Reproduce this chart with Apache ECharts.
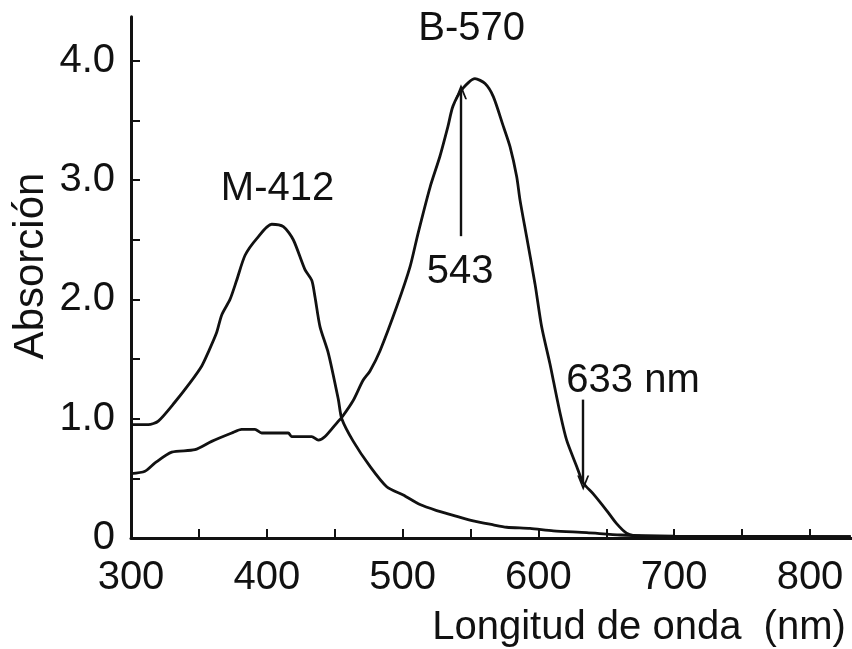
<!DOCTYPE html>
<html>
<head>
<meta charset="utf-8">
<script src="https://cdn.jsdelivr.net/npm/echarts@6/dist/echarts.min.js"></script>
<style>
  html, body { margin: 0; padding: 0; background: #fff; }
  #chart { width: 852px; height: 649px; }
</style>
</head>
<body>
<div id="chart"></div>
<script>
// Absorption spectra of the M-412 and B-570 states (wavelength in nm, absorbance).
const mWavelength = [300, 312.7, 320.1, 332.4, 343.4, 352, 357, 363, 366.8, 372.9, 377.8, 384, 392.6, 403.6,
  412.2, 419.5, 428.1, 433.1, 435.5, 439.2, 445.3, 452.7, 455.2, 463.7, 476, 488.3, 500.5, 512.8, 525.1,
  537.3, 549.6, 566.8, 576.6, 593.8, 611, 635.6, 660.3, 700, 830];
const mAbsorbance = [0.95, 0.95, 0.98, 1.14, 1.30, 1.44, 1.56, 1.72, 1.87, 2.00, 2.16, 2.37, 2.51, 2.63,
  2.61, 2.50, 2.25, 2.16, 2.02, 1.77, 1.55, 1.16, 1.00, 0.81, 0.60, 0.43, 0.36, 0.28, 0.23,
  0.19, 0.15, 0.11, 0.09, 0.08, 0.06, 0.045, 0.025, 0.015, 0.012];

const bWavelength = [300, 310.3, 317.7, 330, 347.1, 359.4, 374.2, 381.5, 391.3, 396.2, 415.8, 418.3, 433.1,
  437.9, 442.9, 452.7, 455.2, 463.5, 470.8, 476, 483.4, 495.7, 505.4, 511.3, 520.2, 527.5, 533.4, 537.1,
  544.5, 553.3, 560.7, 566.8, 574.2, 579.1, 584, 586.5, 591.4, 597.5, 602.4, 608.5, 611, 615.9, 620.8,
  628.2, 633.1, 640.4, 650.3, 657.6, 665, 675, 830];
const bAbsorbance = [0.54, 0.56, 0.63, 0.72, 0.74, 0.81, 0.88, 0.91, 0.91, 0.88, 0.88, 0.85, 0.85,
  0.82, 0.85, 0.98, 1.01, 1.15, 1.32, 1.40, 1.57, 1.94, 2.27, 2.55, 2.94, 3.20, 3.45, 3.62,
  3.77, 3.85, 3.81, 3.70, 3.45, 3.28, 3.03, 2.83, 2.52, 2.13, 1.77, 1.46, 1.32, 1.05, 0.82,
  0.60, 0.46, 0.37, 0.23, 0.12, 0.04, 0.015, 0.012];

// Excitation wavelengths marked with arrows, and the absorbance span of each arrow
const arrowWavelengths = [543, 633];
const arrowFrom = [2.53, 1.16];
const arrowTo = [3.74, 0.46];

// Annotation texts with their data-space anchors
const noteTexts = ['M-412', 'B-570', '543', '633 nm'];
const noteWavelengths = [407.9, 550.9, 542.3, 669.7];
const noteAbsorbance = [2.925, 4.27, 2.23, 1.316];

// Axis ranges: the drawn axis lines run a little past the last labelled tick
const xMin = 300, xTickMax = 800, xStep = 100, xAxisEnd = 830.9;
const yMin = 0, yTickMax = 4, yStep = 0.5, yAxisEnd = 4.37;

const pairs = (xs, ys) => xs.map((x, i) => [x, ys[i]]);

// Pixel layout
const left = 131, baseY = 538, pxPerNm = 1.358, pxPerUnit = 119.3;

const FONT = '"Liberation Sans", Arial, sans-serif';
const INK = '#111';

const chevron = 'path://M0,14 L6,0 L12,14 L10.2,14 L6,4.6 L1.8,14 Z';

const chart = echarts.init(document.getElementById('chart'), null, { renderer: 'canvas' });

chart.setOption({
  animation: false,
  backgroundColor: '#fff',
  grid: [
    // plotting area with the full-length axis lines
    { left: left, top: baseY - yAxisEnd * pxPerUnit,
      width: (xAxisEnd - xMin) * pxPerNm, height: yAxisEnd * pxPerUnit },
    // tick marks and tick labels
    { left: left, top: baseY - yTickMax * pxPerUnit,
      width: (xTickMax - xMin) * pxPerNm, height: yTickMax * pxPerUnit }
  ],
  xAxis: [
    {
      gridIndex: 0, type: 'value', min: xMin, max: xAxisEnd,
      axisLine: { show: true, lineStyle: { color: INK, width: 3 } },
      axisTick: { show: false }, axisLabel: { show: false }, splitLine: { show: false }
    },
    {
      gridIndex: 1, type: 'value', min: xMin, max: xTickMax, interval: xStep,
      axisLine: { show: false },
      axisTick: { show: true, inside: true, length: 9, lineStyle: { color: INK, width: 2 } },
      minorTick: { show: true, splitNumber: 2, length: 9, lineStyle: { color: INK, width: 2 } },
      axisLabel: { show: true, margin: 20, fontSize: 40, fontFamily: FONT, color: INK },
      splitLine: { show: false }
    }
  ],
  yAxis: [
    {
      gridIndex: 0, type: 'value', min: yMin, max: yAxisEnd,
      axisLine: { show: true, lineStyle: { color: INK, width: 3 } },
      axisTick: { show: false }, axisLabel: { show: false }, splitLine: { show: false }
    },
    {
      gridIndex: 1, type: 'value', min: yMin, max: yTickMax, interval: yStep,
      axisLine: { show: false },
      axisTick: { show: true, inside: true, length: 9, lineStyle: { color: INK, width: 2 } },
      axisLabel: {
        show: true, margin: 16, fontSize: 40, fontFamily: FONT, color: INK,
        formatter: v => (v % 1 !== 0 ? '' : (v === 0 ? '0' : v.toFixed(1)))
      },
      splitLine: { show: false }
    }
  ],
  series: [
    {
      name: 'M-412', type: 'line', xAxisIndex: 0, yAxisIndex: 0,
      data: pairs(mWavelength, mAbsorbance),
      showSymbol: false, smooth: 0.25,
      lineStyle: { color: INK, width: 2.8 },
      emphasis: { disabled: true },
      markPoint: {
        symbol: 'circle', symbolSize: 1, silent: true,
        itemStyle: { color: 'rgba(0,0,0,0)' },
        label: { show: true, position: 'inside', formatter: '{b}', fontSize: 40, fontFamily: FONT, color: INK },
        data: noteTexts.map((t, i) => ({ name: t, coord: [noteWavelengths[i], noteAbsorbance[i]] }))
      }
    },
    {
      name: 'B-570', type: 'line', xAxisIndex: 0, yAxisIndex: 0,
      data: pairs(bWavelength, bAbsorbance),
      showSymbol: false, smooth: 0.25,
      lineStyle: { color: INK, width: 2.8 },
      emphasis: { disabled: true },
      markLine: {
        silent: true,
        symbol: ['none', chevron],
        symbolSize: [12, 15],
        label: { show: false },
        lineStyle: { color: INK, width: 2.4, type: 'solid' },
        data: arrowWavelengths.map((w, i) => [
          { coord: [w, arrowFrom[i]] },
          { coord: [w, arrowTo[i]] }
        ])
      }
    }
  ],
  graphic: [
    {
      type: 'text', x: 31, y: 266, rotation: Math.PI / 2,
      style: { text: 'Absorción', fontSize: 42, fontFamily: FONT, fill: INK, align: 'center', verticalAlign: 'middle' }
    },
    {
      type: 'text', x: 639, y: 628,
      style: { text: 'Longitud de onda  (nm)', fontSize: 40, fontFamily: FONT, fill: INK, align: 'center', verticalAlign: 'middle' }
    }
  ]
});
</script>
</body>
</html>
